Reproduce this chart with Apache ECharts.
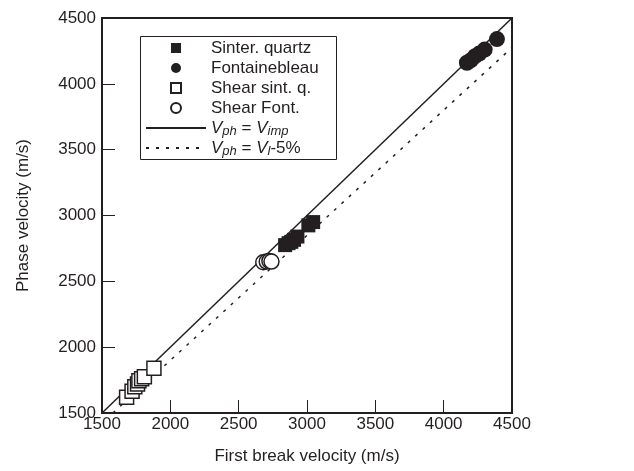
<!DOCTYPE html>
<html>
<head>
<meta charset="utf-8">
<script src="https://cdn.jsdelivr.net/npm/echarts@6/dist/echarts.min.js"></script>
<style>
  html, body { margin: 0; padding: 0; background: #fff; }
  #chart { width: 634px; height: 471px; }
</style>
</head>
<body>
<div id="chart"></div>
<script>
// first break velocity, phase velocity (m/s)
const sinterQuartz = [[2840, 2775], [2865, 2790], [2885, 2800], [2905, 2815], [2930, 2840], [3010, 2925], [3045, 2950]];
const fontainebleau = [[4170, 4160], [4200, 4180], [4230, 4210], [4260, 4230], [4300, 4260], [4390, 4340]];
const shearSintQ = [[1680, 1620], [1720, 1665], [1740, 1700], [1760, 1720], [1770, 1745], [1790, 1760], [1810, 1775], [1880, 1840]];
const shearFont = [[2680, 2645], [2705, 2650], [2725, 2655], [2740, 2650]];
const equalLine = [[1500, 1500], [4500, 4500]];
const minus5Line = [[1500 / 0.95, 1500], [4500, 4275]];
const ticks = [1500, 2000, 2500, 3000, 3500, 4000, 4500];

const FONT = "'Liberation Sans', Arial, sans-serif";
const INK = '#231f20';

const chart = echarts.init(document.getElementById('chart'));

const axisCommon = {
  type: 'value',
  min: ticks[0],
  max: ticks[ticks.length - 1],
  interval: 500,
  nameLocation: 'middle',
  nameTextStyle: { fontFamily: FONT, fontSize: 17, color: INK },
  axisLine: { show: true, onZero: false, lineStyle: { color: INK, width: 2 } },
  axisTick: { show: true, inside: true, length: 13, lineStyle: { color: INK, width: 1 } },
  axisLabel: { fontFamily: FONT, fontSize: 17, color: INK, formatter: v => String(v) },
  splitLine: { show: false }
};

const legendNames = {
  'eq': '{i|V}{s|ph} = {i|V}{s|imp}',
  'm5': '{i|V}{s|ph} = {i|V}{s|l}-5%'
};

const legendText = {
  fontFamily: FONT, fontSize: 17, color: INK, lineHeight: 20,
  rich: {
    i: { fontFamily: FONT, fontSize: 17, fontStyle: 'italic', color: INK, lineHeight: 20 },
    s: { fontFamily: FONT, fontSize: 13, fontStyle: 'italic', color: INK, lineHeight: 11, verticalAlign: 'bottom' }
  }
};

chart.setOption({
  animation: false,
  grid: { left: 102, right: 122, top: 18, bottom: 58, show: true, borderColor: INK, borderWidth: 2 },
  xAxis: Object.assign({}, axisCommon, { name: 'First break velocity (m/s)', nameGap: 35, axisLabel: Object.assign({}, axisCommon.axisLabel, { margin: 3 }) }),
  yAxis: Object.assign({}, axisCommon, { name: 'Phase velocity (m/s)', nameGap: 70, axisLabel: Object.assign({}, axisCommon.axisLabel, { margin: 6 }) }),
  graphic: [{
    type: 'rect', left: 140, top: 36, z: 3,
    shape: { width: 196, height: 123 },
    style: { fill: '#fff', stroke: INK, lineWidth: 1 }
  }],
  legend: [
    {
      orient: 'vertical', left: 170, top: 38, padding: 0,
      itemWidth: 10, itemHeight: 10, itemGap: 0,
      data: ['Sinter. quartz', 'Fontainebleau', 'Shear sint. q.', 'Shear Font.'],
      textStyle: Object.assign({}, legendText, { padding: [0, 0, 0, 25] })
    },
    {
      orient: 'vertical', left: 145, top: 118, padding: 0,
      itemWidth: 60, itemHeight: 10, itemGap: 0,
      data: [{ name: 'eq', itemStyle: { opacity: 0 } }, { name: 'm5', itemStyle: { opacity: 0 } }],
      formatter: n => legendNames[n],
      textStyle: legendText
    }
  ],
  series: [
    {
      name: 'eq', type: 'line', data: equalLine, symbol: 'none', z: 1,
      lineStyle: { color: INK, width: 1.5 }, itemStyle: { color: INK }
    },
    {
      name: 'm5', type: 'line', data: minus5Line, symbol: 'none', z: 1,
      lineStyle: { color: INK, width: 1.5, type: [3, 7] }, itemStyle: { color: INK }
    },
    {
      name: 'Sinter. quartz', type: 'scatter', data: sinterQuartz, symbol: 'rect', symbolSize: 14,
      itemStyle: { color: INK, opacity: 1 }
    },
    {
      name: 'Fontainebleau', type: 'scatter', data: fontainebleau, symbol: 'circle', symbolSize: 16,
      itemStyle: { color: INK, opacity: 1 }
    },
    {
      name: 'Shear sint. q.', type: 'scatter', data: shearSintQ, symbol: 'rect', symbolSize: 14,
      itemStyle: { color: '#fff', borderColor: INK, borderWidth: 1.5, opacity: 1 }
    },
    {
      name: 'Shear Font.', type: 'scatter', data: shearFont, symbol: 'circle', symbolSize: 15,
      itemStyle: { color: '#fff', borderColor: INK, borderWidth: 1.5, opacity: 1 }
    }
  ]
});
</script>
</body>
</html>
